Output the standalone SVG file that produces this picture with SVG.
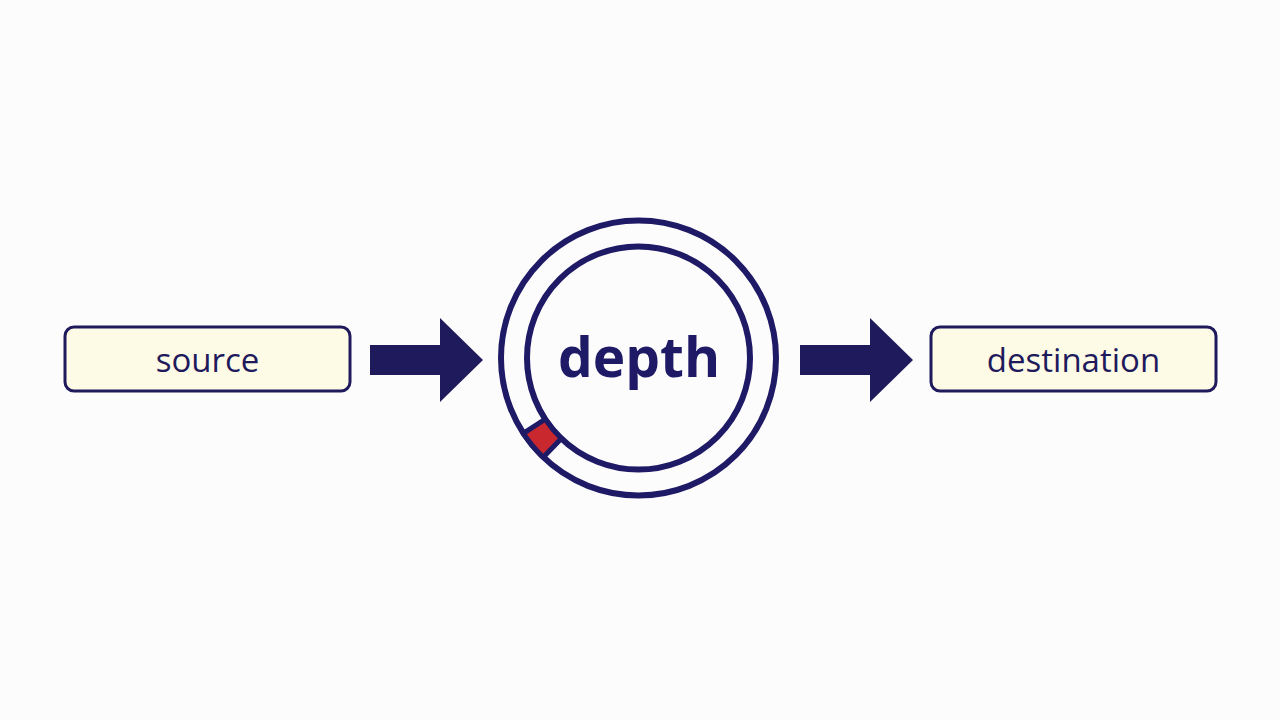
<svg xmlns="http://www.w3.org/2000/svg" width="1280" height="720" viewBox="0 0 1280 720">
<style>
.box{fill:#fdfbe6;stroke:#1f1a5c;stroke-width:3}
.lbl{font-family:"Open Sans","Liberation Sans",sans-serif;font-size:33px;fill:#1f1a5c;text-anchor:middle}
.ring{fill:none;stroke:#1f1a66;stroke-width:6}
.arrow{fill:#1f1a5c}
</style>
<rect width="1280" height="720" fill="#fcfcfc"/>
<g id="source">
<rect class="box" x="65" y="327" width="285" height="64" rx="9"/>
<text class="lbl" x="207.5" y="372">source</text>
</g>
<g id="depth">
<circle class="ring" cx="638.5" cy="358" r="137.5"/>
<circle class="ring" cx="638.5" cy="358" r="111.5"/>
<path d="M543.3,457.2 A137.5,137.5 0 0 1 523.4,433.3 L545.2,419.1 A111.5,111.5 0 0 0 561.3,438.5 Z" fill="#c8282e" stroke="#1f1a66" stroke-width="5" stroke-linejoin="miter"/>
<text x="639" y="377" font-family="'Open Sans','Liberation Sans',sans-serif" font-weight="bold" font-size="55" fill="#1f1a66" text-anchor="middle">depth</text>
</g>
<g id="destination">
<rect class="box" x="931" y="327" width="285" height="64" rx="9"/>
<text class="lbl" x="1073.5" y="372">destination</text>
</g>
<g id="connectors">
<polygon class="arrow" points="370,345 440,345 440,318 483,360 440,402 440,375 370,375"/>
<polygon class="arrow" points="800,345 870,345 870,318 913,360 870,402 870,375 800,375"/>
</g>
</svg>
